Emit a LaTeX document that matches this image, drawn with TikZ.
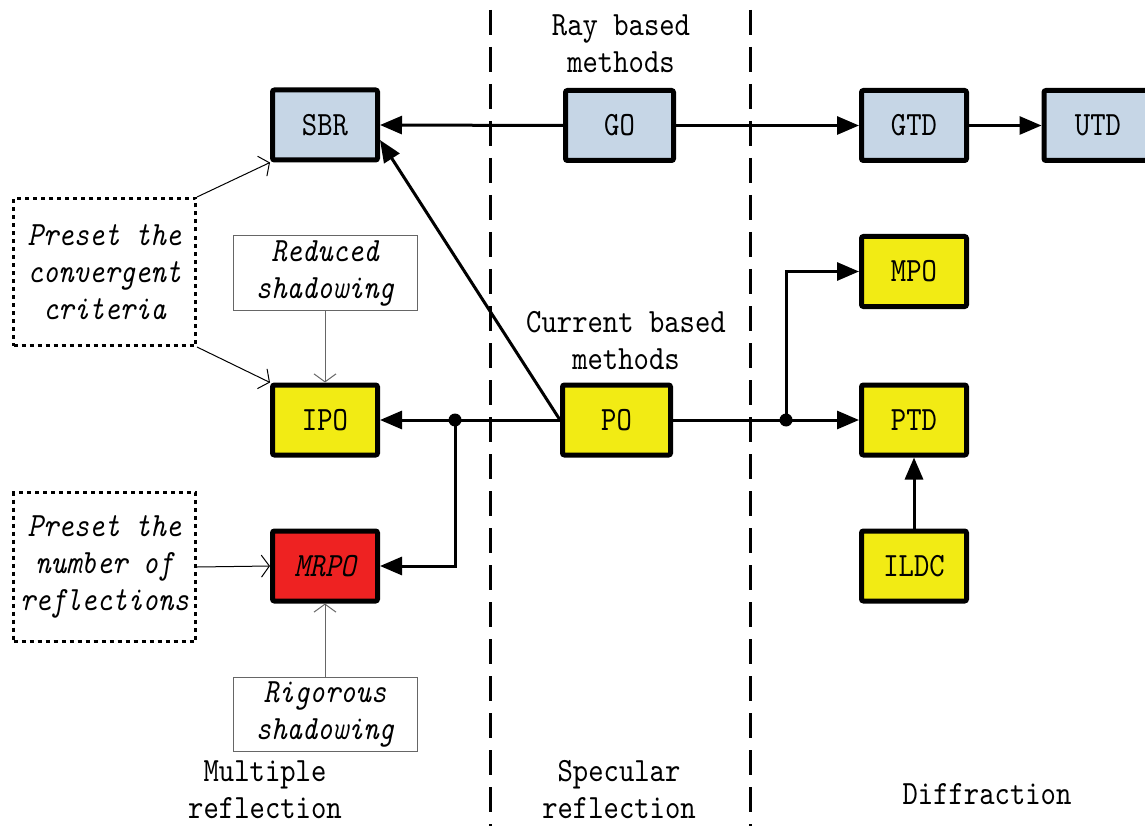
\documentclass[tikz,border=0pt]{standalone}
\usepackage{fontspec}
\setmainfont{lmmono10-regular.otf}[FakeStretch=0.86, ItalicFont=lmmono10-italic.otf, ItalicFeatures={FakeStretch=0.86}]
\usetikzlibrary{arrows.meta}
\definecolor{rayblue}{HTML}{C6D6E6}
\definecolor{curyellow}{HTML}{F2EB14}
\definecolor{mrred}{HTML}{EE2222}
\tikzset{
  lbl/.style={font=\fontsize{34}{37}\selectfont, align=center, inner sep=0pt},
  box/.style={draw, line width=5pt, rounded corners=2pt, minimum width=105pt, minimum height=70pt, inner sep=0pt, font=\fontsize{34}{37}\selectfont},
  raybox/.style={box, fill=rayblue},
  curbox/.style={box, fill=curyellow},
  redbox/.style={box, fill=mrred},
  dotbox/.style={draw, line width=3pt, dash pattern=on 4pt off 4pt, minimum width=182pt, minimum height=147pt, inner sep=0pt, align=center, font=\fontsize{34}{37}\selectfont\itshape},
  graybox/.style={draw=black!60, line width=1pt, minimum width=184pt, minimum height=74pt, inner sep=0pt, align=center, font=\fontsize{34}{37}\selectfont\itshape},
  thickline/.style={line width=3pt},
  thickarrow/.style={line width=3pt, -{Triangle[length=22pt,width=18pt]}},
  thinarrow/.style={line width=1pt, -{Straight Barb[length=8pt,width=22pt]}},
  dashline/.style={line width=3pt, dash pattern=on 25pt off 12pt},
}
\begin{document}
\begin{tikzpicture}[x=1pt,y=-1pt]
\useasboundingbox (0,0) rectangle (1145,826);
% dashed separators
\coordinate (d1a) at (490,10); \coordinate (d1b) at (490,826);
\coordinate (d2a) at (750,10); \coordinate (d2b) at (750,826);
\draw[dashline] (d1a) -- (d1b);
\draw[dashline] (d2a) -- (d2b);
% boxes
\node[raybox] (SBR) at (325,125) {SBR};
\node[raybox, minimum width=108pt] (GO) at (619.5,125.5) {GO};
\node[raybox] (GTD) at (914,125.5) {GTD};
\node[raybox, minimum width=108pt] (UTD) at (1098,125.5) {UTD};
\node[curbox] (MPO) at (914,271.5) {MPO};
\node[curbox] (PTD) at (914,420) {PTD};
\node[curbox] (ILDC) at (914,566) {ILDC};
\node[curbox] (IPO) at (325,420) {IPO};
\node[redbox] (MRPO) at (325,566) {\itshape MRPO};
\node[curbox, minimum width=108pt] (PO) at (616.5,420) {PO};
% condition boxes
\node[dotbox] (PC) at (104.5,272) {Preset the\\convergent\\criteria};
\node[dotbox, minimum height=149pt] (PN) at (104.5,567) {Preset the\\number of\\reflections};
\node[graybox] (RS) at (325,273) {Reduced\\shadowing};
\node[graybox] (RG) at (325,714.5) {Rigorous\\shadowing};
% labels
\node[lbl] (tray) at (621,44) {Ray based\\methods};
\node[lbl] (tcur) at (626,341) {Current based\\methods};
\node[lbl] (tmul) at (265,790) {Multiple\\reflection};
\node[lbl] (tspe) at (619,790) {Specular\\reflection};
\node[lbl] (tdif) at (987,794) {Diffraction};
% connectors
\coordinate (j1) at (455,420);
\coordinate (j2) at (786,420);
\draw[thickarrow] (GO.west) -- (SBR.east);
\draw[thickarrow] (GO.east) -- (GTD.west);
\draw[thickarrow] (GTD.east) -- (UTD.west);
\draw[thickarrow] (PO.west) -- ([yshift=-15pt]SBR.east);
\draw[thickline] (PO.west) -- (j1);
\draw[thickarrow] (j1) -- (IPO.east);
\draw[thickarrow] (j1) |- (MRPO.east);
\draw[thickarrow] (PO.east) -- (PTD.west);
\draw[thickarrow] (j2) |- (MPO.west);
\draw[thickarrow] (ILDC.north) -- (PTD.south);
\fill (j1) circle (6.5pt);
\fill (j2) circle (6.5pt);
\draw[thinarrow] (PC.north east) -- (SBR.south west);
\draw[thinarrow] (PC.south east) -- (IPO.north west);
\draw[thinarrow, draw=black!60] (RS.south) -- (IPO.north);
\draw[thinarrow] (PN.east) -- (MRPO.west);
\draw[thinarrow, draw=black!60] (RG.north) -- (MRPO.south);
\end{tikzpicture}
\end{document}
